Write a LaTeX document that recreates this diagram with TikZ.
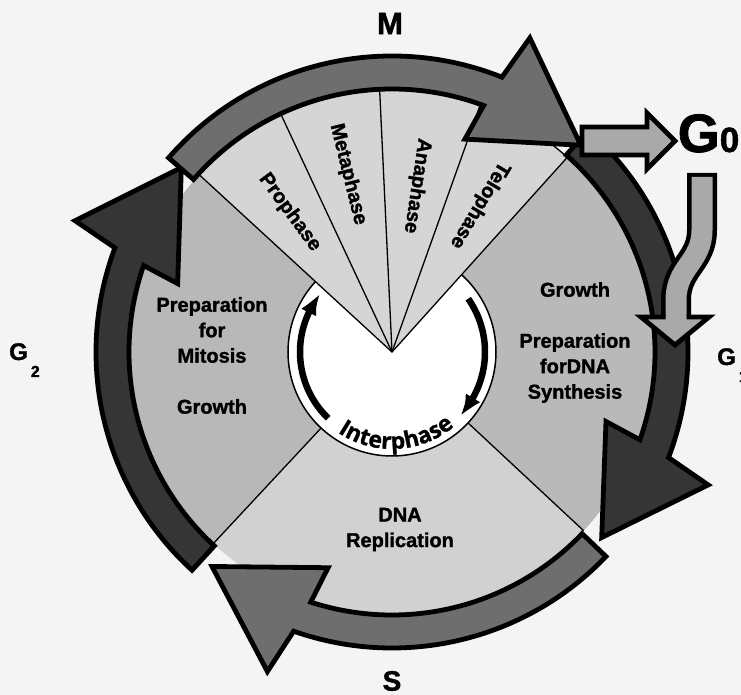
\documentclass[tikz,border=0pt]{standalone}
\usepackage{fontspec}
\setmainfont{Liberation Sans}[BoldFeatures={FakeBold=1.5}]
\newfontfamily\interfam{Open Sans}[BoldFeatures={FakeBold=1}]
\usetikzlibrary{arrows.meta,bending,decorations.text}
\definecolor{bgcol}{HTML}{F4F4F4}
\definecolor{mitcol}{HTML}{D5D5D5}
\definecolor{gonecol}{HTML}{B9B9B9}
\definecolor{scol}{HTML}{D1D1D1}
\definecolor{gtwocol}{HTML}{B8B8B8}
\definecolor{darkband}{HTML}{353535}
\definecolor{midband}{HTML}{6E6E6E}
\definecolor{gzerocol}{HTML}{A9A9A9}
\newcommand\interfont{\interfam\bfseries\fontsize{23}{23}\selectfont}
% #1 start angle, #2 tip angle, #3 colour
\newcommand\ringarrow[3]{%
  \filldraw[band, fill=#3] (#1:296) arc[start angle=#1, end angle={#2+20.6}, radius=296]
    -- ({#2+18.7}:343) -- (#2:280) -- ({#2+23.5}:225) -- ({#2+22}:263)
    arc[start angle={#2+22}, end angle=#1, radius=263] -- cycle;}
\begin{document}
\begin{tikzpicture}[x=1pt,y=1pt,
  band/.style={draw=black, line width=4.8pt, line join=miter, miter limit=10},
  sepline/.style={draw=black, line width=1.3pt},
  lbl/.style={font=\bfseries\fontsize{20}{25.5}\selectfont, inner sep=0pt, align=center},
  phase/.style={font=\bfseries\fontsize{20}{24}\selectfont, inner sep=0pt},
  biglbl/.style={font=\bfseries\fontsize{24}{24}\selectfont, inner sep=0pt, anchor=base west},
  inarrow/.style={line width=6.5pt, -{Latex[length=22pt,width=17pt,bend]}},
]
\fill[bgcol] (-392,-343) rectangle (349,352);
\useasboundingbox (-392,-343) rectangle (349,352);

% phase sectors
\fill[gonecol] (0,0) -- (-43:262) arc[start angle=-43, end angle=48, radius=262] -- cycle;
\fill[scol] (0,0) -- (-133:262) arc[start angle=-133, end angle=-43, radius=262] -- cycle;
\fill[gtwocol] (0,0) -- (137.4:262) arc[start angle=137.4, end angle=227, radius=262] -- cycle;

% inner white circle
\filldraw[fill=white, draw=black, line width=1.5pt] (0,0) circle[radius=104];
\draw[sepline] (-43:104) -- (-43:262);
\draw[sepline] (227:104) -- (227:262);

% mitosis wedge
\filldraw[fill=mitcol, sepline, line join=miter] (0,0) -- (48:262) arc[start angle=48, end angle=137.4, radius=262] -- cycle;
\draw[sepline] (0,0) -- (70.35:262);
\draw[sepline] (0,0) -- (92.7:262);
\draw[sepline] (0,0) -- (115.05:262);

% interphase arrows
\draw[inarrow] (226:92) arc[start angle=226, end angle=141, radius=92];
\draw[inarrow] (35:93) arc[start angle=35, end angle=-43, radius=93];
\path[decorate, decoration={text along path, text={|\interfont|Interphase}, text align=center}]
  (193:97) arc[start angle=193, end angle=353, radius=97];

% outer ring arrows
\ringarrow{227.5}{138.8}{darkband}
\ringarrow{-43.7}{-130}{midband}
\ringarrow{48.5}{-41.5}{darkband}
\ringarrow{139}{47.6}{midband}

% G0 arrows
\filldraw[band, fill=gzerocol] (190,197) -- (255,197) -- (255,183) -- (283,211) -- (255,239) -- (255,225) -- (190,225) -- cycle;
\draw[line width=30pt, black] (310,179) -- (310,122) .. controls (310,90) and (284,85) .. (284,52) -- (284,35);
\draw[line width=21pt, gzerocol] (310,175) -- (310,122) .. controls (310,90) and (284,85) .. (284,52) -- (284,35);
\filldraw[fill=gzerocol, draw=black, line width=4.8pt, line join=miter] (273.5,35) -- (249,35) -- (283,7) -- (317,35) -- (294.5,35);

% region texts
\node[lbl] (gtwotxt) at (-180,-3.5) {Preparation\\for\\Mitosis\\[25.5pt]Growth};
\node[lbl] (gonetxt) at (183,9.5) {Growth\\[25.5pt]Preparation\\forDNA\\Synthesis};
\node[lbl] (stxt) at (8,-177.5) {DNA\\Replication};

% mitosis phase texts
\node[phase, rotate=-53.8] (pro) at (126.2:173) {Prophase};
\node[phase, rotate=-76.1] (meta) at (103.9:183) {Metaphase};
\node[phase, rotate=-98.5] (ana) at (81.5:168) {Anaphase};
\node[phase, rotate=-120.8] (telo) at (59.2:171) {Telophase};

% phase labels
\node[font=\bfseries\fontsize{31}{31}\selectfont, inner sep=0pt] (mlbl) at (-2,328.5) {M};
\node[font=\bfseries\fontsize{28}{28}\selectfont, inner sep=0pt] (slbl) at (0,-329) {S};
\node[biglbl] (gtwolbl) at (-383,-8) {G\kern3pt\raisebox{-17pt}{\fontsize{16}{16}\selectfont 2}};
\node[biglbl] (gonelbl) at (325,-13) {G\kern3pt\raisebox{-17pt}{\fontsize{16}{16}\selectfont 1}};
\node[font=\bfseries\fontsize{54}{54}\selectfont, inner sep=0pt, anchor=base west] (gzerolbl) at (285.6,200) {G{\fontsize{35}{35}\selectfont 0}};
\end{tikzpicture}
\end{document}
